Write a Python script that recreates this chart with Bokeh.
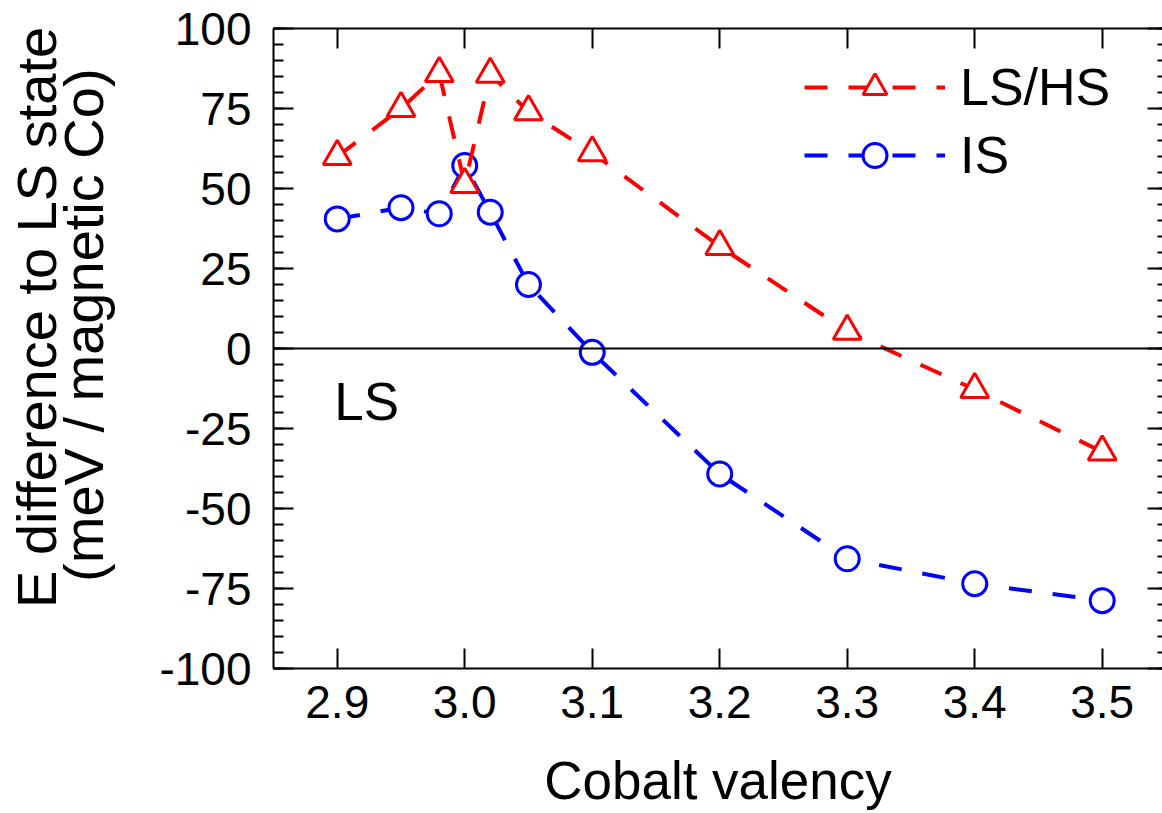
from bokeh.plotting import figure
from bokeh.models import (Range1d, LinearAxis, FixedTicker, Span, Label,
                          Legend, LegendItem, CustomLabelingPolicy)
from bokeh.embed import file_html
from bokeh.resources import INLINE

# ---- data ----
valency = [2.9, 2.95, 2.98, 3.0, 3.02, 3.05, 3.1, 3.2, 3.3, 3.4, 3.5]
lshs = [60.0, 75.0, 86.0, 51.3, 85.7, 74.0, 61.2, 31.9, 5.4, -12.8, -32.3]
is_state = [40.5, 44.0, 42.1, 57.2, 42.6, 20.0, -1.2, -39.2, -65.7, -73.5, -78.8]

x_ticks = [2.9, 3.0, 3.1, 3.2, 3.3, 3.4, 3.5]
x_tick_labels = ["2.9", "3.0", "3.1", "3.2", "3.3", "3.4", "3.5"]
y_ticks = [-100, -75, -50, -25, 0, 25, 50, 75, 100]
y_tick_labels = ["-100", "-75", "-50", "-25", "0", "25", "50", "75", "100"]
y_minor = list(range(-100, 101, 5))

y_title_lines = ["E difference to LS state", "(meV / magnetic Co)"]
NB = "\u00a0"  # non-breaking spaces nudge each line upwards like the reference

FONT = "Liberation Sans"

p = figure(width=1162, height=813,
           x_range=Range1d(2.85, 3.5473), y_range=Range1d(-100, 100),
           output_backend="svg", toolbar_location=None,
           min_border_left=273, min_border_right=0,
           min_border_top=28, min_border_bottom=145)
p.outline_line_color = None
p.xgrid.visible = False
p.ygrid.visible = False
p.background_fill_color = "white"
p.border_fill_color = "white"

hide_all = CustomLabelingPolicy(code="for (const i of indices) { indices.unset(i) } return indices")

# bottom axis
xa = p.xaxis[0]
xa.ticker = FixedTicker(ticks=x_ticks, minor_ticks=[])
xa.major_label_overrides = dict(zip(x_ticks, x_tick_labels))
xa.major_tick_in = 20
xa.major_tick_out = 0
xa.minor_tick_in = 0
xa.minor_tick_out = 0
xa.axis_line_width = 2
xa.axis_line_color = "black"
xa.major_tick_line_width = 2
xa.major_tick_line_color = "black"
xa.major_label_text_font = FONT
xa.major_label_text_font_size = "46px"
xa.major_label_text_color = "black"
xa.major_label_standoff = 17
xa.axis_label = "Cobalt valency"
xa.axis_label_text_font = FONT
xa.axis_label_text_font_size = "53px"
xa.axis_label_text_font_style = "normal"
xa.axis_label_text_color = "black"
xa.axis_label_standoff = 30

# left axis
ya = p.yaxis[0]
ya.ticker = FixedTicker(ticks=y_ticks, minor_ticks=y_minor)
ya.major_label_overrides = dict(zip(y_ticks, y_tick_labels))
ya.major_tick_in = 20
ya.major_tick_out = 0
ya.minor_tick_in = 10
ya.minor_tick_out = 0
ya.axis_line_width = 2
ya.axis_line_color = "black"
ya.major_tick_line_width = 2
ya.minor_tick_line_width = 2
ya.major_tick_line_color = "black"
ya.minor_tick_line_color = "black"
ya.major_label_text_font = FONT
ya.major_label_text_font_size = "46px"
ya.major_label_text_color = "black"
ya.major_label_standoff = 22
ya.axis_label = NB * 4 + y_title_lines[0] + "\n" + NB * 3 + y_title_lines[1]
ya.axis_label_text_font = FONT
ya.axis_label_text_font_size = "56px"
ya.axis_label_text_font_style = "normal"
ya.axis_label_text_color = "black"
ya.axis_label_text_line_height = 0.76
ya.axis_label_standoff = 41

# top axis (ticks only)
top = LinearAxis(ticker=FixedTicker(ticks=x_ticks, minor_ticks=[]),
                 major_tick_in=20, major_tick_out=0,
                 minor_tick_in=0, minor_tick_out=0,
                 axis_line_width=2, major_tick_line_width=2,
                 axis_line_color="black", major_tick_line_color="black",
                 major_label_text_font_size="0px", major_label_standoff=0,
                 major_label_policy=hide_all)
p.add_layout(top, "above")

# right axis (ticks only, frame cut at the window edge)
right = LinearAxis(ticker=FixedTicker(ticks=y_ticks, minor_ticks=y_minor),
                   major_tick_in=15, major_tick_out=0,
                   minor_tick_in=5, minor_tick_out=0,
                   axis_line_color=None, major_tick_line_width=2,
                   minor_tick_line_width=2,
                   major_tick_line_color="black", minor_tick_line_color="black",
                   major_label_text_font_size="0px", major_label_standoff=0,
                   major_label_policy=hide_all)
p.add_layout(right, "right")

# zero line
p.add_layout(Span(location=0, dimension="width", line_color="black",
                  line_width=2))

# series
dash = "23 21"
l_is = p.line(valency, is_state, line_color="blue", line_width=4, line_dash=dash)
m_is = p.scatter(valency, is_state, marker="circle", size=24,
                 line_color="blue", line_width=3, fill_color="white")
l_hs = p.line(valency, lshs, line_color="red", line_width=4, line_dash=dash)
m_hs = p.scatter(valency, lshs, marker="triangle", size=28,
                 line_color="red", line_width=3, fill_color="white")

p.add_layout(Label(x=2.9, y=-16.5, text="LS", text_font=FONT,
                   text_font_size="53px", text_baseline="alphabetic",
                   text_color="black", x_offset=-3))

legend = Legend(items=[LegendItem(label="LS/HS", renderers=[l_hs, m_hs]),
                       LegendItem(label="IS", renderers=[l_is, m_is])],
                location=(531, 483), glyph_width=141, glyph_height=60,
                label_height=60, label_standoff=15, spacing=8, padding=0,
                margin=0, border_line_color=None, background_fill_alpha=0,
                label_text_font=FONT, label_text_font_size="52px",
                label_text_color="black", label_text_baseline="middle")
p.add_layout(legend)

open("out.html", "w").write(file_html(p, INLINE))
